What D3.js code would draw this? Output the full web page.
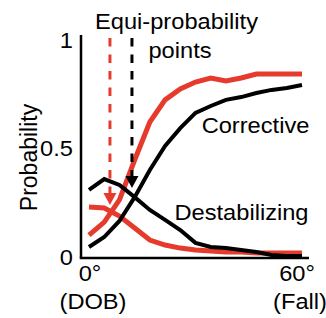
<!DOCTYPE html>
<html><head><meta charset="utf-8">
<script src="https://cdn.jsdelivr.net/npm/d3@7"></script>
<style>body{margin:0;background:#fff}svg{display:block}text{font-family:"Liberation Sans",Arial,sans-serif;fill:#000}</style>
</head><body>
<svg id="c" width="326" height="318"></svg>
<script>
// Data
const angles = [0, 4.29, 8.57, 12.86, 17.14, 21.43, 25.71, 30, 34.29, 38.57, 42.86, 47.14, 51.43, 55.71, 60];
const redCorrective   = [0.101, 0.161, 0.263, 0.447, 0.622, 0.724, 0.774, 0.806, 0.825, 0.811, 0.825, 0.843, 0.843, 0.843, 0.843];
const blackCorrective = [0.046, 0.092, 0.166, 0.276, 0.401, 0.512, 0.594, 0.664, 0.696, 0.724, 0.737, 0.756, 0.770, 0.779, 0.793];
const redDestab       = [0.230, 0.226, 0.189, 0.134, 0.078, 0.055, 0.041, 0.032, 0.028, 0.023, 0.023, 0.018, 0.018, 0.018, 0.018];
const blackDestab     = [0.309, 0.359, 0.332, 0.276, 0.217, 0.171, 0.124, 0.065, 0.046, 0.041, 0.032, 0.023, 0.009, 0.005, 0.005];
const equiAngles = [5.9, 12.1];
const equiArrowTip = [0.24, 0.318];
const equiColors = ["red", "black"];
const yTicks = [0, 0.5, 1];
const yTickLabels = ["0", "0.5", "1"];
const xTicks = [0, 60];
const xTickLabels = ["0°", "60°"];
const xSubLabels = ["(DOB)", "(Fall)"];

const RED = "#e63b2c";
const svg = d3.select("#c");
const x = d3.scaleLinear().domain([0, 60]).range([89, 302]);
const y = d3.scaleLinear().domain([0, 1]).range([257, 40]);
const FS = 21.5, SX = 1.1;

// axes
const yAxis = svg.append("g").attr("transform", "translate(81,0)")
  .call(d3.axisLeft(y).tickValues(yTicks).tickSize(0).tickFormat((d,i)=>yTickLabels[i]));
yAxis.select(".domain").attr("d", "M0,35V258").attr("stroke", "#000").attr("stroke-width", 2.5);
yAxis.selectAll("text").remove();
yTicks.forEach((t,i)=>{
  svg.append("text").attr("transform", `translate(73,${y(t)+7.5}) scale(${SX},1)`)
    .attr("text-anchor","end").attr("font-size",FS).text(yTickLabels[i]);
});
const xAxis = svg.append("g").attr("transform", "translate(0,258)")
  .call(d3.axisBottom(x).tickValues(xTicks).tickSize(0).tickFormat((d,i)=>xTickLabels[i]));
xAxis.select(".domain").attr("d", "M79.75,0H309").attr("stroke", "#000").attr("stroke-width", 2.5);
xAxis.selectAll("text").remove();
const xOff = [1, -5];
xTicks.forEach((t,i)=>{
  svg.append("text").attr("transform", `translate(${x(t)+xOff[i]},281) scale(${SX},1)`)
    .attr("text-anchor","middle").attr("font-size",FS).text(xTickLabels[i]);
  svg.append("text").attr("transform", `translate(${x(t)+xOff[i]+3},309) scale(${SX},1)`)
    .attr("text-anchor","middle").attr("font-size",FS).text(xSubLabels[i]);
});
svg.append("text").attr("transform","translate(37,157.5) rotate(-90)")
  .attr("text-anchor","middle").attr("font-size",23).text("Probability");

// lines
const line = d3.line().x((d,i)=>x(angles[i])).y(d=>y(d));
function draw(data, color, w){
  svg.append("path").datum(data).attr("d", line).attr("fill","none")
    .attr("stroke", color).attr("stroke-width", w).attr("stroke-linejoin","miter");
}
draw(redDestab, RED, 5);
draw(redCorrective, RED, 5);
draw(blackDestab, "#000", 4);
draw(blackCorrective, "#000", 4);

// equi-probability dashed lines with arrows
equiAngles.forEach((a,i)=>{
  const c = equiColors[i]==="red" ? RED : "#000";
  const xx = x(a);
  const tip = y(equiArrowTip[i]);
  svg.append("line").attr("x1",xx).attr("x2",xx).attr("y1",38).attr("y2",tip-10)
    .attr("stroke",c).attr("stroke-width",3).attr("stroke-dasharray","8.5,8");
  svg.append("path").attr("d",`M${xx-6.5},${tip-12}L${xx+6.5},${tip-12}L${xx},${tip}Z`).attr("fill",c);
});

// labels
function label(txt, cx, by){
  svg.append("text").attr("transform",`translate(${cx},${by}) scale(${SX},1)`)
    .attr("text-anchor","middle").attr("font-size",FS).text(txt);
}
label("Equi-probability", 176.5, 29);
label("points", 180, 58);
label("Corrective", 255.5, 133);
label("Destabilizing", 241.5, 220);
</script>
</body></html>
